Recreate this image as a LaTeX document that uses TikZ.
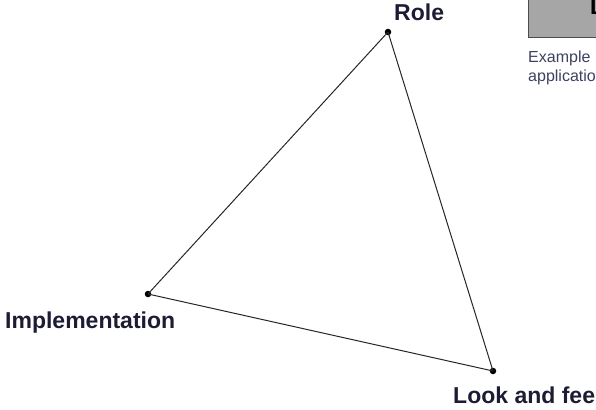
\documentclass[tikz,border=0pt]{standalone}
\usepackage{fontspec}
\setmainfont{Liberation Sans}
\definecolor{etichetta}{HTML}{1C1C34}
\definecolor{nota}{HTML}{3C4260}
\definecolor{riquadro}{HTML}{A6A6A6}
\begin{document}
\begin{tikzpicture}[x=1pt,y=-1pt]
    % Definizione stili
    \tikzstyle{vertice}=[circle, fill=black, inner sep=0pt, minimum size=6.5pt]
    \tikzstyle{etic}=[anchor=base west, inner sep=0pt, text=etichetta, font=\bfseries\fontsize{23}{27}\selectfont]
    \tikzstyle{lato}=[draw=black!85, line width=1pt]
    \tikzstyle{didascalia}=[anchor=base west, inner sep=0pt, text=nota, font=\fontsize{16}{19}\selectfont]

    % Area del disegno
    \useasboundingbox (0,0) rectangle (596,409);
    \clip (0,0) rectangle (596,409);

    % Riquadro in alto a destra
    \node[draw=black!70, fill=riquadro, line width=0.8pt, minimum width=90pt, minimum height=46pt, anchor=south west, inner sep=0pt] (box) at (528,38) {};
    \node[etic, text=black] (box_titolo) at (590,15) {L};
    \node[didascalia] (nota1) at (528,63) {Example};
    \node[didascalia] (nota2) at (528,82) {application};

    % Vertici del triangolo
    \node[vertice] (ruolo) at (388,32) {};
    \node[vertice] (impl) at (148,294) {};
    \node[vertice] (aspetto) at (493,371) {};

    % Etichette dei vertici
    \node[etic] (lab_ruolo) at (394,21) {Role};
    \node[etic] (lab_impl) at (5,328) {Implementation};
    \node[etic] (lab_aspetto) at (453,403) {Look and feel};

    % Lati
    \draw[lato] (ruolo.center) -- (impl.center);
    \draw[lato] (impl.center) -- (aspetto.center);
    \draw[lato] (aspetto.center) -- (ruolo.center);
\end{tikzpicture}
\end{document}
